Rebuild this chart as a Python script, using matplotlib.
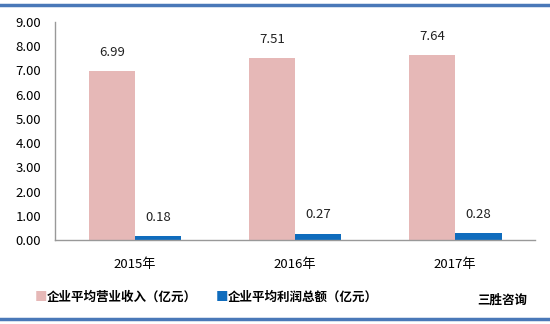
import numpy as np
import matplotlib
matplotlib.use('Agg')
import matplotlib.pyplot as plt
from matplotlib.lines import Line2D

plt.rcParams['font.family'] = ['Noto Sans CJK SC', 'DejaVu Sans']

years = ['2015年', '2016年', '2017年']
revenue = [6.99, 7.51, 7.64]
profit = [0.18, 0.27, 0.28]
labels = ['企业平均营业收入（亿元）', '企业平均利润总额（亿元）']
yticks = np.arange(0, 9.01, 1.0)

pink = '#e6b8b7'
blue = '#0f6cbd'

fig = plt.figure(figsize=(5.5, 3.24), dpi=100)
ax = fig.add_axes([0.1, 0.259, 0.873, 0.673])

x = np.arange(len(years))
w = 0.29
b1 = ax.bar(x - w / 2, revenue, w, color=pink)
b2 = ax.bar(x + w / 2, profit, w, color=blue)

for bars, vals in ((b1, revenue), (b2, profit)):
    for r, v in zip(bars, vals):
        ax.text(r.get_x() + r.get_width() / 2, v + 0.5, f'{v:.2f}',
                ha='center', va='bottom', fontsize=9.5, color='#222222')

ax.set_xlim(-0.5, 2.5)
ax.set_ylim(0, 9)
ax.set_yticks(yticks)
ax.set_yticklabels([f'{t:.2f}' for t in yticks], fontsize=9.5)
ax.set_xticks(x)
ax.set_xticklabels(years, fontsize=9.5)
ax.tick_params(length=0)
ax.tick_params(axis='x', pad=13)
ax.tick_params(axis='y', pad=10)
for s in ('top', 'right'):
    ax.spines[s].set_visible(False)
for s in ('left', 'bottom'):
    ax.spines[s].set_color('#999999')
    ax.spines[s].set_linewidth(1.0)

# legend
fig.text(0.063, 0.083, '■', color=pink, fontsize=9, va='center', ha='left')
fig.text(0.085, 0.083, labels[0], fontsize=9, fontweight='bold', va='center', ha='left')
fig.text(0.393, 0.083, '■', color=blue, fontsize=9, va='center', ha='left')
fig.text(0.415, 0.083, labels[1], fontsize=9, fontweight='bold', va='center', ha='left')
fig.text(0.868, 0.073, '三胜咨询', fontsize=9, fontweight='bold', va='center', ha='left')

# decorative border lines
for yy in (0.985, 0.015):
    fig.add_artist(Line2D([0, 1], [yy, yy], transform=fig.transFigure,
                          color='#4a78b8', linewidth=2.5))

fig.savefig('out.png', dpi=100)
